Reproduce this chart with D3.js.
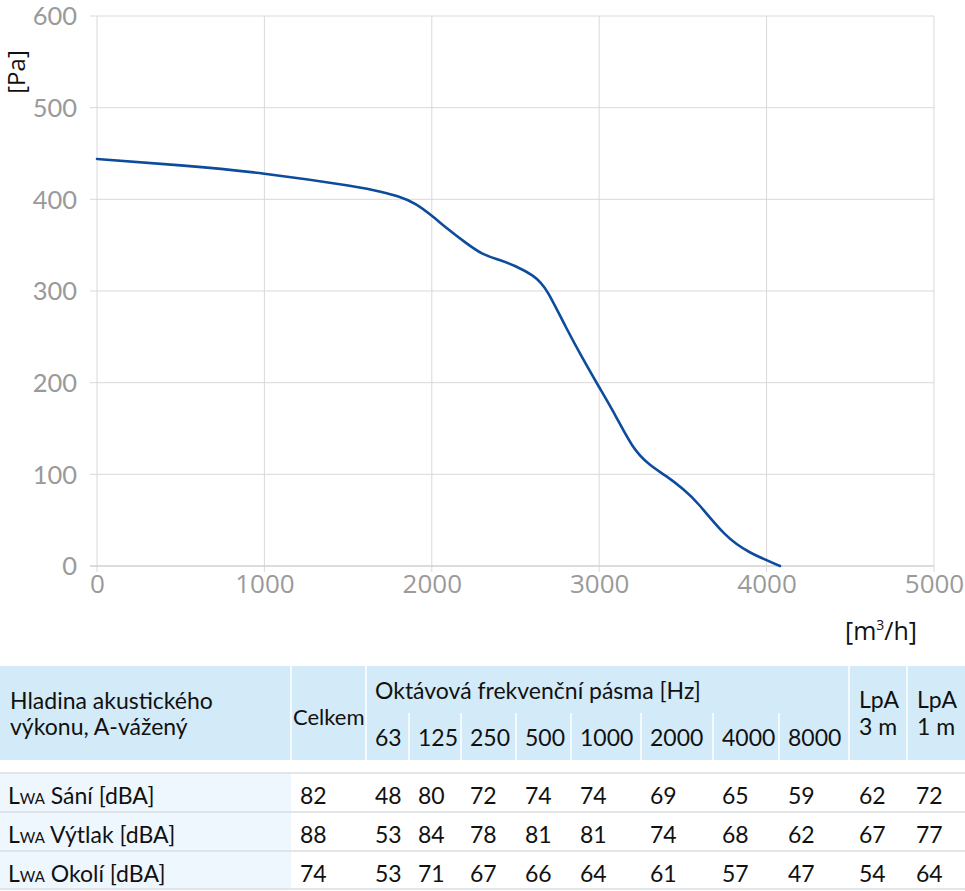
<!DOCTYPE html>
<html>
<head>
<meta charset="utf-8">
<script src="https://cdn.jsdelivr.net/npm/d3@7/dist/d3.min.js"></script>
<style>
  html, body { margin: 0; padding: 0; background: #fff; }
  svg { display: block; }
</style>
</head>
<body>
<svg id="chart" width="965" height="891"></svg>
<script>
// ---------- DATA ----------
const flow = [0, 500, 1000, 1500, 1700, 1800, 1900, 2000, 2100, 2200, 2300, 2400, 2500, 2600, 2650, 2700, 2800, 2900, 3000, 3100, 3200, 3300, 3400, 3500, 3600, 3750, 3900, 4080];
const pressure = [444, 437, 428, 415, 408, 403, 395, 382, 367, 353, 341, 334, 327, 317, 309, 296, 261, 227, 195, 163, 131, 111, 98, 84, 66, 35, 15, 0];
const xTicks = [0, 1000, 2000, 3000, 4000, 5000];
const yTicks = [0, 100, 200, 300, 400, 500, 600];
const yUnit = "[Pa]";

const headerLabel = ["Hladina akustického", "výkonu, A-vážený"];
const totalHeader = "Celkem";
const bandHeader = "Oktávová frekvenční pásma [Hz]";
const bands = ["63", "125", "250", "500", "1000", "2000", "4000", "8000"];
const lpaHeaders = [["LpA", "3 m"], ["LpA", "1 m"]];
const rowNames = ["Sání [dBA]", "Výtlak [dBA]", "Okolí [dBA]"];
const totals = [82, 88, 74];
const bandsSani = [48, 80, 72, 74, 74, 69, 65, 59];
const bandsVytlak = [53, 84, 78, 81, 81, 74, 68, 62];
const bandsOkoli = [53, 71, 67, 66, 64, 61, 57, 47];
const lpa3m = [62, 67, 54];
const lpa1m = [72, 77, 64];

// ---------- LAYOUT ----------
const svg = d3.select("#chart");
const axisFont = "'Open Sans', 'DejaVu Sans', sans-serif";
const yTickFont = "Lato, 'Open Sans', sans-serif";
const tableFont = "Lato, 'Open Sans', sans-serif";
const gridColor = "#d9d9d9";
const labelColor = "#9a9a9a";

const x = d3.scaleLinear().domain([0, 5000]).range([97, 934]);
const y = d3.scaleLinear().domain([0, 600]).range([566, 16]);

// gridlines
const grid = svg.append("g");
grid.selectAll("line.v").data(xTicks).join("line")
  .attr("x1", d => x(d)).attr("x2", d => x(d))
  .attr("y1", y(600)).attr("y2", y(0) + 6)
  .attr("stroke", gridColor).attr("stroke-width", 1);
grid.selectAll("line.h").data(yTicks).join("line")
  .attr("x1", x(0) - 7).attr("x2", x(5000))
  .attr("y1", d => y(d)).attr("y2", d => y(d))
  .attr("stroke", d => d === 0 ? "#d0d0d0" : gridColor)
  .attr("stroke-width", d => d === 0 ? 1.6 : 1);

// axes (labels only)
const yAxis = svg.append("g").attr("transform", `translate(${x(0) - 20},0)`)
  .call(d3.axisLeft(y).tickValues(yTicks).tickSize(0).tickPadding(0).tickFormat(d3.format("d")));
yAxis.select(".domain").remove();
yAxis.selectAll("text").attr("font-family", yTickFont).attr("font-size", 25.5)
  .attr("fill", labelColor).attr("dy", "0.35em");

const xAxis = svg.append("g").attr("transform", `translate(0,${y(0) + 7})`)
  .call(d3.axisBottom(x).tickValues(xTicks).tickSize(0).tickPadding(0).tickFormat(d3.format("d")));
xAxis.select(".domain").remove();
xAxis.selectAll("text").attr("font-family", axisFont).attr("font-size", 26)
  .attr("fill", labelColor).attr("dy", "0.76em");

// axis units
svg.append("text").attr("transform", "translate(25,72) rotate(-90)")
  .attr("text-anchor", "middle").attr("font-family", axisFont).attr("font-size", 24)
  .attr("fill", "#111").text(yUnit);
const xu = svg.append("text").attr("x", 845).attr("y", 640)
  .attr("font-family", axisFont).attr("font-size", 25).attr("fill", "#111");
xu.append("tspan").text("[m");
xu.append("tspan").attr("font-size", 14).attr("dy", -10).text("3");
xu.append("tspan").attr("dy", 10).text("/h]");

// curve
const pts = flow.map((f, i) => [f, pressure[i]]);
svg.append("path").datum(pts)
  .attr("fill", "none").attr("stroke", "#0d4c9c").attr("stroke-width", 2.6)
  .attr("stroke-linejoin", "round").attr("stroke-linecap", "round")
  .attr("d", d3.line().x(d => x(d[0])).y(d => y(d[1])).curve(d3.curveNatural));

// ---------- TABLE ----------
const colX = [0, 291, 366, 409, 461, 516, 571, 641, 713, 779, 849, 907, 965];
const headTop = 666, headBot = 760, headMid = 713;
const rowTops = [773, 812, 851, 889];
const pad = 9;
const tg = svg.append("g").attr("font-family", tableFont).attr("fill", "#111");

tg.append("rect").attr("x", 0).attr("y", headTop).attr("width", 965)
  .attr("height", headBot - headTop).attr("fill", "#d3ebf9");
tg.append("rect").attr("x", 0).attr("y", rowTops[0]).attr("width", colX[1])
  .attr("height", rowTops[3] - rowTops[0]).attr("fill", "#eef7fd");

// header separators
[1, 2, 10, 11].forEach(i => tg.append("line")
  .attr("x1", colX[i]).attr("x2", colX[i]).attr("y1", headTop).attr("y2", headBot)
  .attr("stroke", "#fff").attr("stroke-width", 1.5));
[3, 4, 5, 6, 7, 8, 9].forEach(i => tg.append("line")
  .attr("x1", colX[i]).attr("x2", colX[i]).attr("y1", headMid).attr("y2", headBot)
  .attr("stroke", "#fff").attr("stroke-width", 1.5));

// row lines
tg.selectAll("line.row").data(rowTops).join("line")
  .attr("x1", 0).attr("x2", 965).attr("y1", d => d).attr("y2", d => d)
  .attr("stroke", "#d9dee2").attr("stroke-width", 1.3);

const fs = 23;
headerLabel.forEach((t, i) => tg.append("text").attr("x", 10).attr("y", 709 + i * 26)
  .attr("font-size", fs).text(t));
tg.append("text").attr("x", colX[1] + 2).attr("y", 725).attr("font-size", 22).text(totalHeader);
tg.append("text").attr("x", colX[2] + pad).attr("y", 699).attr("font-size", fs).text(bandHeader);
bands.forEach((b, i) => tg.append("text").attr("x", colX[2 + i] + pad).attr("y", 746)
  .attr("font-size", fs).text(b));
lpaHeaders.forEach((h, i) => {
  tg.append("text").attr("x", colX[10 + i] + 10).attr("y", 708).attr("font-size", fs).text(h[0]);
  tg.append("text").attr("x", colX[10 + i] + 10).attr("y", 735).attr("font-size", fs).text(h[1]);
});

// rows
const bandRows = [bandsSani, bandsVytlak, bandsOkoli];
rowNames.forEach((name, r) => {
  const base = rowTops[r] + 31;
  const t = tg.append("text").attr("x", 8).attr("y", base).attr("font-size", fs);
  t.append("tspan").text("L");
  t.append("tspan").attr("font-size", 15).text("WA");
  t.append("tspan").text(" " + name);
  tg.append("text").attr("x", colX[1] + pad).attr("y", base).attr("font-size", fs).text(totals[r]);
  bandRows[r].forEach((v, i) => tg.append("text").attr("x", colX[2 + i] + pad).attr("y", base)
    .attr("font-size", fs).text(v));
  tg.append("text").attr("x", colX[10] + 10).attr("y", base).attr("font-size", fs).text(lpa3m[r]);
  tg.append("text").attr("x", colX[11] + 9).attr("y", base).attr("font-size", fs).text(lpa1m[r]);
});
</script>
</body>
</html>
